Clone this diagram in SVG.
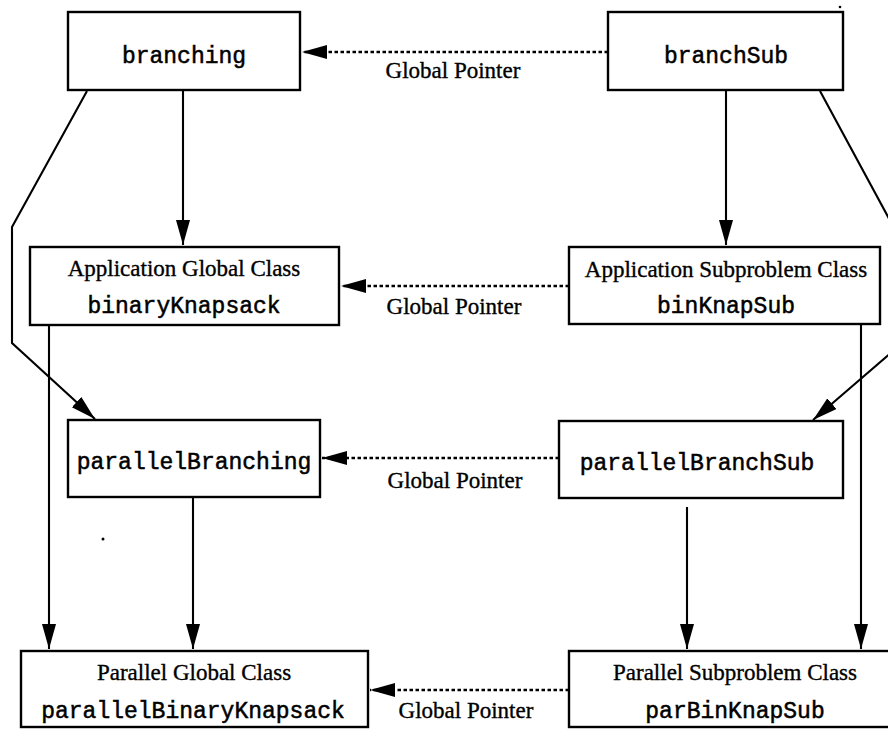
<svg xmlns="http://www.w3.org/2000/svg" width="888" height="729" viewBox="0 0 888 729">
  <style>
    .box { fill: #fff; stroke: #000; stroke-width: 2.4; }
    .mono { font-family: "Liberation Mono", "Courier New", monospace; font-size: 23px; fill: #000; stroke: #000; stroke-width: 0.5; text-anchor: middle; }
    .serif { font-family: "Liberation Serif", "Times New Roman", serif; font-size: 23px; fill: #000; stroke: #000; stroke-width: 0.35; text-anchor: middle; }
    .solid { fill: none; stroke: #000; stroke-width: 2.1; }
    .dotted { fill: none; stroke: #000; stroke-width: 2.6; stroke-dasharray: 3.5 2.5; }
  </style>
  <defs>
    <marker id="head" markerUnits="userSpaceOnUse" markerWidth="28" markerHeight="16" refX="25" refY="7" orient="auto">
      <path d="M0,0 L25,7 L0,14 Z" fill="#000"/>
    </marker>
  </defs>

  <rect width="888" height="729" fill="#fff"/>

  <g id="connectors">
    <!-- global pointers (dotted) -->
    <path class="dotted" d="M608,52 L302,52" marker-end="url(#head)"/>
    <path class="dotted" d="M569,286 L341,286" marker-end="url(#head)"/>
    <path class="dotted" d="M559,458 L322,458" marker-end="url(#head)"/>
    <path class="dotted" d="M569,690 L370,690" marker-end="url(#head)"/>
    <!-- derivation arrows -->
    <path class="solid" d="M183,90 L183,245" marker-end="url(#head)"/>
    <path class="solid" d="M726,90 L726,245" marker-end="url(#head)"/>
    <path class="solid" d="M87,91 L12,227 L12,343 L95,419" marker-end="url(#head)"/>
    <path class="solid" d="M820,91 L893,226 L893,351 L813,420" marker-end="url(#head)"/>
    <path class="solid" d="M49,325 L49,649" marker-end="url(#head)"/>
    <path class="solid" d="M193,497 L193,649" marker-end="url(#head)"/>
    <path class="solid" d="M861,324 L861,649" marker-end="url(#head)"/>
    <path class="solid" d="M687,507 L687,649" marker-end="url(#head)"/>
  </g>

  <g id="pointer-labels">
    <text class="serif" x="453" y="78">Global Pointer</text>
    <text class="serif" x="454" y="314">Global Pointer</text>
    <text class="serif" x="455" y="488">Global Pointer</text>
    <text class="serif" x="466" y="718">Global Pointer</text>
  </g>

  <g id="branching">
    <rect class="box" x="68" y="12" width="232" height="78"/>
    <text class="mono" x="184" y="63">branching</text>
  </g>

  <g id="branchSub">
    <rect class="box" x="608" y="12" width="235" height="78"/>
    <text class="mono" x="726" y="63">branchSub</text>
  </g>

  <g id="binaryKnapsack">
    <rect class="box" x="30" y="247" width="309" height="78"/>
    <text class="serif" x="184" y="276">Application Global Class</text>
    <text class="mono" x="184" y="313">binaryKnapsack</text>
  </g>

  <g id="binKnapSub">
    <rect class="box" x="569" y="247" width="311" height="77"/>
    <text class="serif" x="726" y="277">Application Subproblem Class</text>
    <text class="mono" x="726" y="313">binKnapSub</text>
  </g>

  <g id="parallelBranching">
    <rect class="box" x="68" y="420" width="252" height="77"/>
    <text class="mono" x="194" y="469">parallelBranching</text>
  </g>

  <g id="parallelBranchSub">
    <rect class="box" x="559" y="421" width="284" height="77"/>
    <text class="mono" x="697" y="470">parallelBranchSub</text>
  </g>

  <g id="parallelBinaryKnapsack">
    <rect class="box" x="21" y="651" width="347" height="76"/>
    <text class="serif" x="194" y="680">Parallel Global Class</text>
    <text class="mono" x="193" y="718">parallelBinaryKnapsack</text>
  </g>

  <g id="parBinKnapSub">
    <rect class="box" x="569" y="651" width="330" height="76"/>
    <text class="serif" x="735" y="680">Parallel Subproblem Class</text>
    <text class="mono" x="735" y="718">parBinKnapSub</text>
  </g>

  <!-- stray specks -->
  <circle cx="840" cy="7" r="1.3" fill="#000"/>
  <circle cx="103" cy="539" r="1.5" fill="#000"/>
</svg>
